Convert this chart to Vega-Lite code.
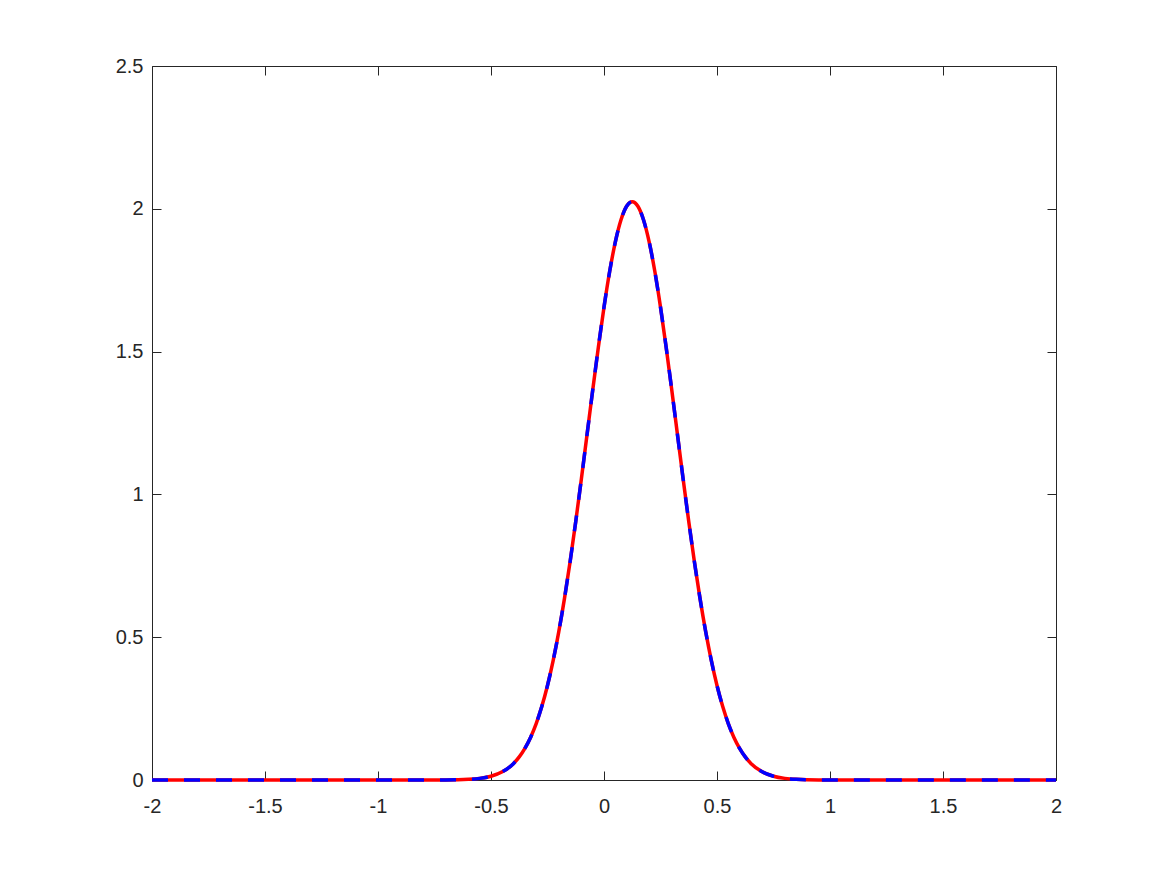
{
  "$schema": "https://vega.github.io/schema/vega-lite/v6.json",
  "width": 904,
  "height": 714,
  "autosize": {"type": "none"},
  "padding": {"left": 152, "top": 66, "right": 111, "bottom": 95},
  "background": "white",
  "config": {
    "view": {"stroke": null},
    "axis": {
      "grid": false,
      "domainColor": "#262626",
      "domainWidth": 1,
      "tickColor": "#262626",
      "tickWidth": 1,
      "tickSize": -9,
      "labelColor": "#262626",
      "labelFont": "Liberation Sans",
      "labelFontSize": 20,
      "labelFlush": false,
      "labelOverlap": false,
      "title": null
    }
  },
  "data": {"values": [
    {"x": -2, "y": 0}, {"x": -1, "y": 0}, {"x": -0.8, "y": 0}, {"x": -0.7, "y": 0.0003},
    {"x": -0.6, "y": 0.0023}, {"x": -0.55, "y": 0.0057}, {"x": -0.5, "y": 0.0132},
    {"x": -0.45, "y": 0.0286}, {"x": -0.4, "y": 0.0581}, {"x": -0.375, "y": 0.0809},
    {"x": -0.35, "y": 0.1107}, {"x": -0.325, "y": 0.1491}, {"x": -0.3, "y": 0.1976},
    {"x": -0.275, "y": 0.2578}, {"x": -0.25, "y": 0.3309}, {"x": -0.225, "y": 0.4179},
    {"x": -0.2, "y": 0.5193}, {"x": -0.175, "y": 0.6351}, {"x": -0.15, "y": 0.7643},
    {"x": -0.125, "y": 0.9051}, {"x": -0.1, "y": 1.0548}, {"x": -0.075, "y": 1.2096},
    {"x": -0.05, "y": 1.3648}, {"x": -0.025, "y": 1.5154}, {"x": 0, "y": 1.6557},
    {"x": 0.025, "y": 1.7802}, {"x": 0.05, "y": 1.8835}, {"x": 0.075, "y": 1.9608},
    {"x": 0.1, "y": 2.0088}, {"x": 0.125, "y": 2.025}, {"x": 0.15, "y": 2.0088},
    {"x": 0.175, "y": 1.9608}, {"x": 0.2, "y": 1.8835}, {"x": 0.225, "y": 1.7802},
    {"x": 0.25, "y": 1.6557}, {"x": 0.275, "y": 1.5154}, {"x": 0.3, "y": 1.3648},
    {"x": 0.325, "y": 1.2096}, {"x": 0.35, "y": 1.0548}, {"x": 0.375, "y": 0.9051},
    {"x": 0.4, "y": 0.7643}, {"x": 0.425, "y": 0.6351}, {"x": 0.45, "y": 0.5193},
    {"x": 0.475, "y": 0.4179}, {"x": 0.5, "y": 0.3309}, {"x": 0.525, "y": 0.2578},
    {"x": 0.55, "y": 0.1976}, {"x": 0.575, "y": 0.1491}, {"x": 0.6, "y": 0.1107},
    {"x": 0.625, "y": 0.0809}, {"x": 0.65, "y": 0.0581}, {"x": 0.7, "y": 0.0286},
    {"x": 0.75, "y": 0.0132}, {"x": 0.8, "y": 0.0057}, {"x": 0.85, "y": 0.0023},
    {"x": 0.95, "y": 0.0003}, {"x": 1.1, "y": 0}, {"x": 2, "y": 0}
  ]},
  "layer": [
    {
      "mark": {"type": "line", "color": "#ff0000", "strokeWidth": 3.5, "interpolate": "monotone", "clip": false},
      "encoding": {
        "x": {"field": "x", "type": "quantitative",
              "scale": {"domain": [-2, 2], "nice": false, "zero": false},
              "axis": {"orient": "bottom", "values": [-2, -1.5, -1, -0.5, 0, 0.5, 1, 1.5, 2], "format": "~g", "labelPadding": 25, "labelExpr": "replace(datum.label, '\u2212', '-')"}},
        "y": {"field": "y", "type": "quantitative",
              "scale": {"domain": [0, 2.5], "nice": false},
              "axis": {"orient": "left", "values": [0, 0.5, 1, 1.5, 2, 2.5], "format": "~g", "labelPadding": 18}}
      }
    },
    {
      "mark": {"type": "line", "color": "#0000ff", "strokeWidth": 3.5, "strokeDash": [16, 16], "interpolate": "monotone", "clip": false},
      "encoding": {
        "x": {"field": "x", "type": "quantitative",
              "axis": {"orient": "top", "values": [-2, -1.5, -1, -0.5, 0, 0.5, 1, 1.5, 2], "labels": false}},
        "y": {"field": "y", "type": "quantitative",
              "axis": {"orient": "right", "values": [0, 0.5, 1, 1.5, 2, 2.5], "labels": false}}
      }
    }
  ],
  "resolve": {"axis": {"x": "independent", "y": "independent"}}
}
